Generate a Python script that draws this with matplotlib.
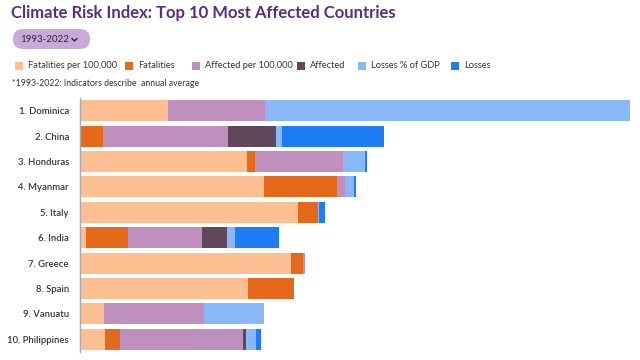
import matplotlib.pyplot as plt
from matplotlib.patches import FancyBboxPatch, Rectangle
import numpy as np

# Donnees (parts relatives de chaque indicateur)
pays = ['1. Dominica', '2. China', '3. Honduras', '4. Myanmar', '5. Italy',
        '6. India', '7. Greece', '8. Spain', '9. Vanuatu', '10. Philippines']

fatalites_100k = [88, 1.3, 166.7, 184, 218, 6, 211, 168, 24, 25]
fatalites = [0, 21.7, 8.3, 73, 20, 42, 12, 46, 0, 15]
affectes_100k = [97, 125, 88.3, 8, 0, 74, 2, 0, 100, 123]
affectes = [0, 48, 0, 0, 0, 25, 0, 0, 0, 3]
pertes_pib = [365, 6, 21.7, 9, 0.7, 7.5, 0, 0, 60, 10]
pertes = [0, 101.5, 1.7, 2, 6.5, 44.5, 0, 0, 0, 5]

series = [
    ('Fatalities per 100,000', fatalites_100k, '#FDBE92'),
    ('Fatalities', fatalites, '#E4691A'),
    ('Affected per 100,000', affectes_100k, '#BF8FBE'),
    ('Affected', affectes, '#5E4859'),
    ('Losses % of GDP', pertes_pib, '#88B7FA'),
    ('Losses', pertes, '#1F7CF7'),
]

plt.rcParams['font.family'] = ['Lato', 'DejaVu Sans']

fig = plt.figure(figsize=(6.4, 3.6), dpi=100, facecolor='white')

# Calque en pixels pour l'en-tete (titre, bouton, legende)
entete = fig.add_axes([0, 0, 1, 1])
entete.set_xlim(0, 640)
entete.set_ylim(360, 0)
entete.axis('off')

# Titre
entete.text(11, 13, 'Climate Risk Index: Top 10 Most Affected Countries',
            fontsize=12, fontweight='bold', color='#5B2C83', va='center', ha='left')

# Bouton periode
entete.add_patch(FancyBboxPatch((13, 29), 77, 20, boxstyle='round,pad=0,rounding_size=10',
                                facecolor='#C9A9D9', edgecolor='none'))
entete.text(20, 39.5, '1993-2022', fontsize=7, color='#2B2B2B', va='center', ha='left')
entete.plot([72, 74.5, 77], [38.5, 41, 38.5], color='#2B2B2B', linewidth=1.0)

# Legende
legende_x = [15, 125, 192, 297, 358, 451]
for (nom, _, couleur), lx in zip(series, legende_x):
    entete.add_patch(Rectangle((lx, 62), 8, 8, facecolor=couleur, edgecolor='none'))
    entete.text(lx + 13, 65.5, nom, fontsize=6.7, color='#333333', va='center', ha='left')

entete.text(12, 83.5, '*1993-2022: Indicators describe  annual average',
            fontsize=6.3, color='#333333', va='center', ha='left')

# Graphique
ax = fig.add_axes([80 / 640, 8 / 360, 552 / 640, 254 / 360])
y = np.arange(len(pays))
gauche = np.zeros(len(pays))
for nom, valeurs, couleur in series:
    ax.barh(y, valeurs, left=gauche, height=0.83, color=couleur, edgecolor='none')
    gauche += np.array(valeurs)

ax.set_xlim(0, 552)
ax.set_ylim(len(pays) - 0.5, -0.5)
ax.set_yticks(y)
ax.set_yticklabels(pays, fontsize=6.8, color='#333333', fontweight='semibold')
ax.tick_params(axis='y', length=0, pad=8)
ax.set_xticks([])
for cote in ['top', 'right', 'bottom']:
    ax.spines[cote].set_visible(False)
ax.spines['left'].set_color('#AAAAAA')
ax.spines['left'].set_linewidth(1)

fig.savefig('out.png', dpi=100)
